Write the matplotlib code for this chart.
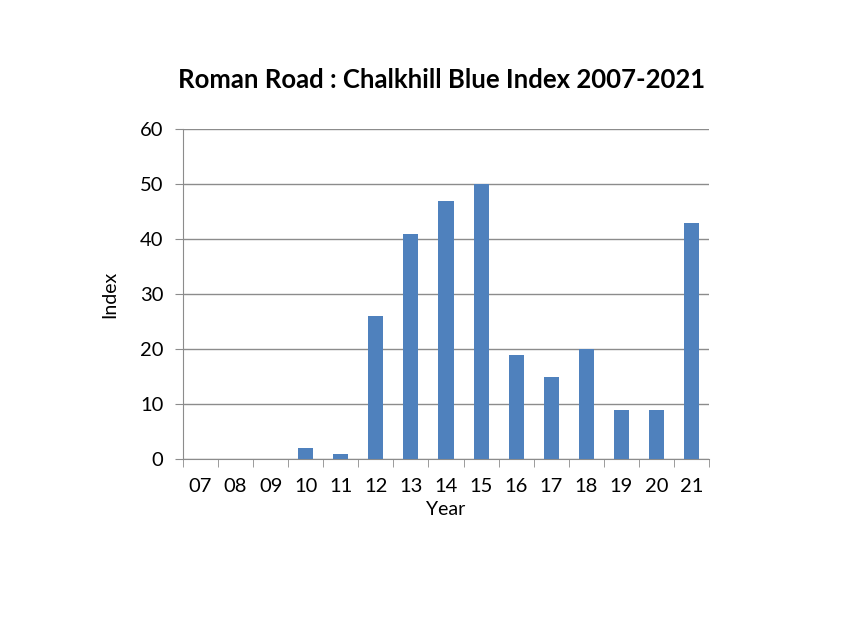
import matplotlib.pyplot as plt
import numpy as np

# data
years = ["07", "08", "09", "10", "11", "12", "13", "14", "15", "16", "17", "18", "19", "20", "21"]
index_values = [0, 0, 0, 2, 1, 26, 41, 47, 50, 19, 15, 20, 9, 9, 43]

plt.rcParams['font.family'] = ['Lato', 'DejaVu Sans']

fig = plt.figure(figsize=(8.48, 6.36), dpi=100)
ax = fig.add_axes([183 / 848, 1 - 459 / 636, 526 / 848, 330 / 636])

x = np.arange(len(years))
ax.bar(x, index_values, width=0.43, color="#4F81BD", zorder=3)

ax.set_xlim(-0.5, len(years) - 0.5)
ax.set_ylim(0, 60)
ax.set_yticks(range(0, 61, 10))
ax.yaxis.grid(True, color="#8c8c8c", linewidth=1, zorder=0)

# category labels centred, tick marks on boundaries
ax.set_xticks(x)
ax.set_xticklabels(years, fontsize=14.5)
ax.set_xticks(np.arange(-0.5, len(years)), minor=True)
ax.tick_params(axis="x", which="major", length=0, pad=14)
ax.tick_params(axis="x", which="minor", length=6, color="#8c8c8c", direction="out")
ax.tick_params(axis="y", length=6, color="#8c8c8c", labelsize=14.5, pad=8)

for side in ["top", "right"]:
    ax.spines[side].set_visible(False)
for side in ["left", "bottom"]:
    ax.spines[side].set_color("#8c8c8c")

ax.set_xlabel("Year", fontsize=14, labelpad=4)
ax.set_ylabel("Index", fontsize=14, labelpad=16)
fig.text(442 / 848, 1 - 80 / 636, "Roman Road : Chalkhill Blue Index 2007-2021",
         ha="center", va="center", fontsize=18.5, fontweight="bold")

fig.savefig("out.png", dpi=100)
